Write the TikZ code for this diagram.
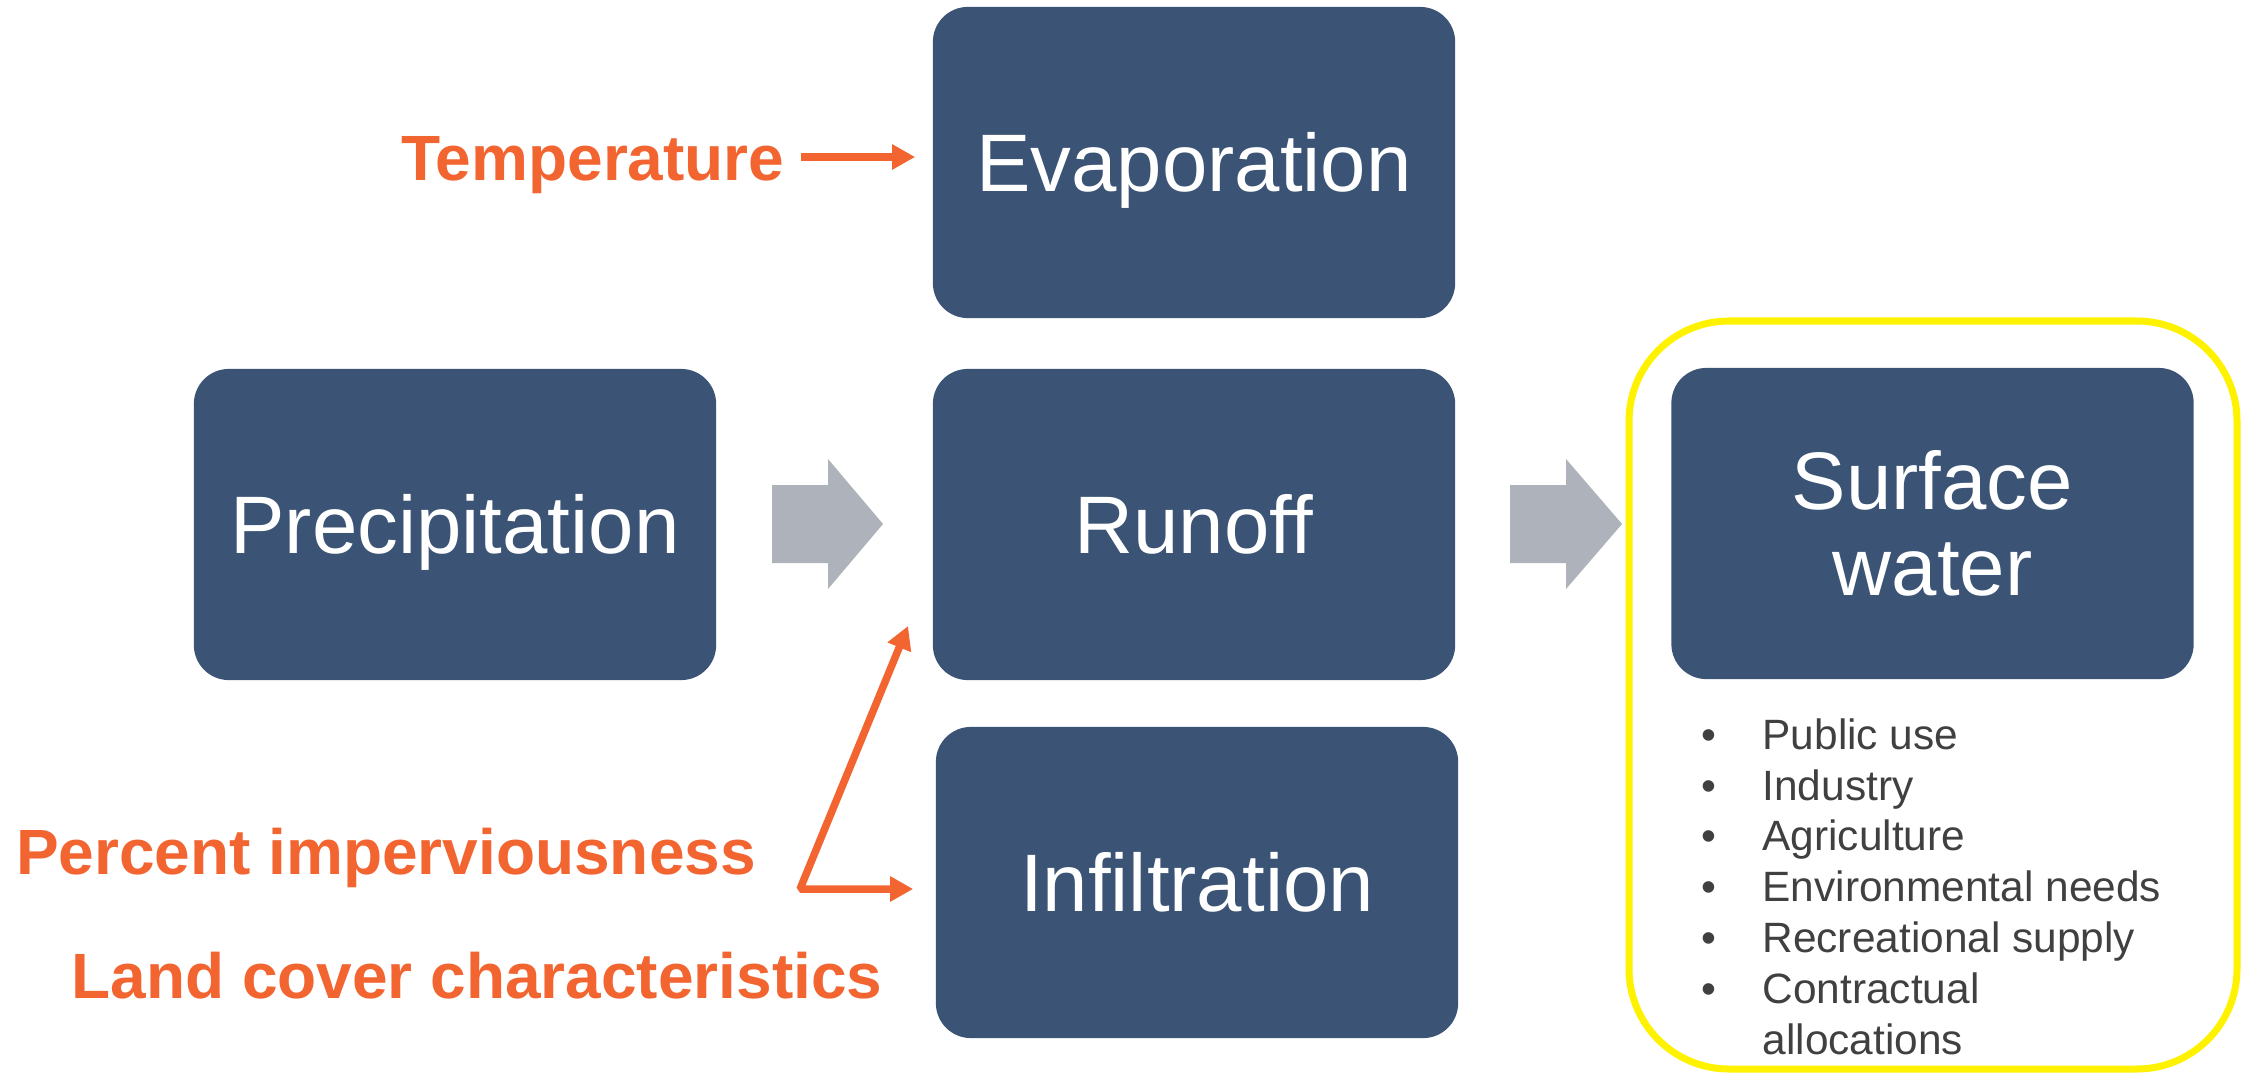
\documentclass[tikz,border=0pt]{standalone}
\usepackage{fontspec}
\setmainfont{Liberation Sans}
\usetikzlibrary{arrows.meta}
\definecolor{boxblue}{RGB}{59,83,116}
\definecolor{arrgray}{RGB}{174,178,186}
\definecolor{orng}{RGB}{242,101,49}
\definecolor{txtgray}{RGB}{64,64,64}
\begin{document}
\begin{tikzpicture}[x=0.01cm,y=-0.01cm,
  procbox/.style={fill=boxblue, rounded corners=0.35cm, minimum width=5.22cm,
    minimum height=3.11cm, inner sep=0pt, text=white,
    font=\fontsize{23.2}{24.5}\selectfont, text height=16.7pt, text depth=0pt},
  factor/.style={text=orng, inner sep=0pt, font=\bfseries\fontsize{18.2}{20}\selectfont},
  blockarrow/.style={fill=arrgray, draw=none},
  otip/.tip={Triangle[length=0.23cm,width=0.24cm]},
  oarrow/.style={draw=orng, line width=0.075cm, -otip},
  highlight/.style={draw=yellow, line width=0.07cm, rounded corners=1cm}]
\useasboundingbox (0,0) rectangle (2243,1073);

% highlight frame
\draw[highlight] (1629,321) rectangle (2237,1069);

% process boxes
\node[procbox] (evap) at (1194,162.5) {Evaporation};
\node[procbox] (runoff) at (1194,524.5) {Runoff};
\node[procbox] (infil) at (1197,882.5) {Infiltration};
\node[procbox] (precip) at (455,524.5) {Precipitation};
\node[procbox, text height=, text depth=, align=center] (surf) at (1932.5,523.5) {Surface\\water};

% block arrows
\fill[blockarrow] (772,485) -- (828,485) -- (828,459) -- (883,524) -- (828,589) -- (828,563) -- (772,563) -- cycle;
\fill[blockarrow] (1510,485) -- (1566,485) -- (1566,459) -- (1622,524) -- (1566,589) -- (1566,563) -- (1510,563) -- cycle;

% factor labels
\node[factor, anchor=base] (temp) at (593,180) {Temperature};
\node[factor, anchor=base] (imperv) at (386,874) {Percent imperviousness};
\node[factor, anchor=base] (land) at (477,998) {Land cover characteristics};

% orange connectors
\coordinate (tstart) at (801,157);
\draw[oarrow, shorten >=0.17cm] (tstart) -- (evap.west |- tstart);

\coordinate (corner) at (800,889);
\coordinate (rtip) at (908,626);
\draw[oarrow, otip-otip, line join=bevel, shorten >=0.22cm]
  (rtip) -- (corner) -- (infil.west |- corner);

% uses list
\node[anchor=base west, inner sep=0pt, text=txtgray,
  font=\fontsize{12.06}{14.5}\selectfont] (uses) at (1701,749)
  {\begin{tabular}[t]{@{}l@{\hspace{0.46cm}}l@{}}
   • & Public use\\
   • & Industry\\
   • & Agriculture\\
   • & Environmental needs\\
   • & Recreational supply\\
   • & Contractual\\
     & allocations
   \end{tabular}};
\end{tikzpicture}
\end{document}
